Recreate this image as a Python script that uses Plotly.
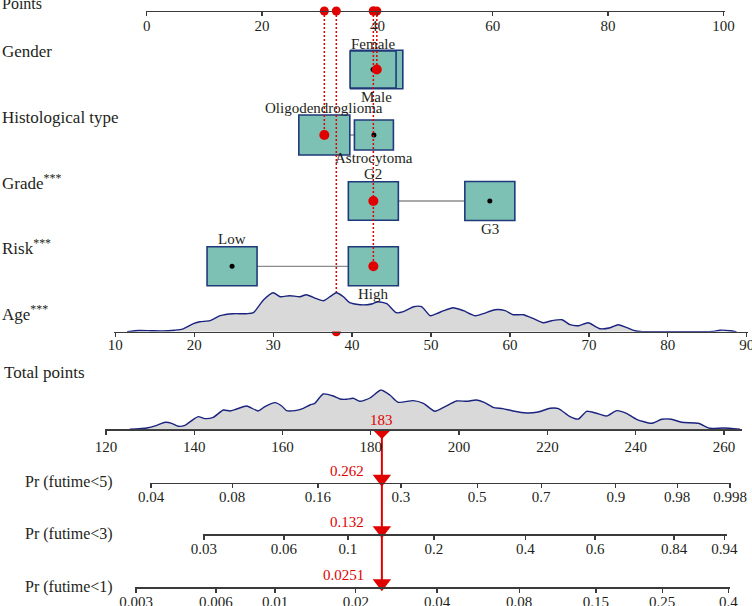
import plotly.graph_objects as go

# ---------------- data ----------------
points_ticks = [0, 20, 40, 60, 80, 100]
age_ticks = [10, 20, 30, 40, 50, 60, 70, 80, 90]
total_ticks = [120, 140, 160, 180, 200, 220, 240, 260]

gender_levels = ["Female", "Male"]
gender_points = [39.25, 39.9]
hist_levels = ["Oligodendroglioma", "Astrocytoma"]
hist_points = [30.8, 39.4]
grade_levels = ["G2", "G3"]
grade_points = [39.3, 59.5]
risk_levels = ["Low", "High"]
risk_points = [14.8, 39.3]

age_x = [11.5, 13.0, 14.5, 16.0, 17.5, 18.5, 19.9, 20.7, 22.0, 23.3, 24.9, 26.6, 27.5, 28.8, 30.0, 30.9,
         32.1, 33.4, 34.2, 35.5, 36.4, 37.2, 38.0, 38.9, 39.7, 41.0, 41.9, 42.6, 43.3, 44.4, 45.6, 46.5,
         47.8, 48.8, 49.9, 50.7, 51.6, 52.8, 54.1, 55.6, 56.6, 58.1, 59.4, 60.4, 61.7, 63.0, 64.2, 65.3,
         66.6, 67.6, 68.7, 69.9, 71.4, 72.7, 73.7, 74.8, 75.8, 76.8, 80.0, 84.0, 85.7, 86.6, 87.9, 88.7]
age_density = [0, 1.2, 1.0, 0.8, 1.5, 2.5, 8, 10, 11, 16, 18, 18, 19, 32, 39, 35,
               36, 35, 37, 33, 31, 35, 39, 35, 29, 27, 27, 28, 30, 28, 19, 20,
               25, 25, 16, 18, 21, 24, 21, 16, 18, 22, 21, 17, 17, 13, 9, 11,
               12, 7, 6, 9, 3, 4, 7, 4, 1, 0, 0, 0, 0.3, 1.5, 1, 0]

total_x = [125.4, 127.5, 129.2, 131.5, 133.4, 134.9, 136.4, 137.9, 139.8, 140.9, 142.4, 144.3, 146.6,
           148.1, 149.6, 151.9, 154.5, 156.0, 158.3, 159.8, 160.9, 162.8, 164.7, 166.2, 167.3, 169.2,
           171.5, 173.0, 174.5, 176.0, 177.5, 179.8, 182.3, 184.3, 186.2, 189.6, 191.9, 194.5, 196.8,
           199.4, 201.7, 203.9, 205.8, 207.7, 209.9, 212.2, 215.3, 217.9, 220.6, 222.5, 225.1, 227.0,
           228.9, 231.1, 233.4, 235.7, 237.9, 240.2, 243.6, 245.9, 248.1, 250.4, 254.2, 256.8, 259.9, 263.6]
total_density = [0, 0.5, 1.3, 4, 7, 6, 3, 4, 10, 12.7, 10.7, 12, 19.3,
                 18.3, 20.3, 23.3, 18.3, 22.7, 26.7, 23.3, 18.7, 18.7, 21, 24.3, 26, 35.3,
                 33.3, 30.3, 30, 31, 28, 31.3, 39.3, 34.3, 27, 28.7, 26, 18, 22.7,
                 28.3, 28, 29.3, 26.7, 22, 20.7, 18.3, 16.3, 17.3, 21, 20.7, 12.7, 10.3,
                 18, 16, 13.3, 18.7, 16, 10, 6, 10, 10, 7, 6, 1, 1.3, 0]

pr5_labels = ["0.04", "0.08", "0.16", "0.3", "0.5", "0.7", "0.9", "0.98", "0.998"]
pr5_pos = [130.2, 148.6, 168.0, 186.8, 204.1, 218.6, 235.5, 249.4, 261.4]
pr3_labels = ["0.03", "0.06", "0.1", "0.2", "0.4", "0.6", "0.84", "0.94"]
pr3_pos = [142.2, 160.3, 174.8, 194.3, 215.0, 230.8, 248.7, 260.1]
pr1_labels = ["0.003", "0.006", "0.01", "0.02", "0.04", "0.08", "0.15", "0.25", "0.4"]
pr1_pos = [126.8, 144.9, 158.3, 176.6, 195.0, 213.6, 231.0, 246.0, 261.0]

# selected patient
sel_gender = "Male"
sel_hist = "Oligodendroglioma"
sel_grade = "G2"
sel_risk = "High"
sel_age = 38
total_score = 182.5
total_label = "183"
pr_values = ["0.262", "0.132", "0.0251"]

# ---------------- layout / style ----------------
W, H = 752, 606
SERIF = "Liberation Serif"
TXT = "#231f20"
AX = "#3a3a3a"
RED = "#e00000"
TEAL = "#7cc1b3"
NAVY = "#1f3a7a"
DENS_LINE = "#1a237e"
DENS_FILL = "#d9d9d9"
CLEAR = "rgba(0,0,0,0)"

PTS_PX0, PTS_K = 146.7, 5.767      # pixel of 0 points, px per point
AGE_PX0, AGE_K = 115.3, 7.893      # pixel of age 10, px per year
TOT_PX0, TOT_K = 106.0, 4.414      # pixel of 120 total points, px per point

Y_POINTS, Y_GENDER, Y_HIST, Y_GRADE, Y_RISK = 11, 69.5, 135, 201, 266.3
Y_AGE, Y_TOTAL, Y_PR5, Y_PR3, Y_PR1 = 331.7, 429.3, 482.7, 534.3, 587.3


def pts_px(v):
    return PTS_PX0 + v * PTS_K


def age_px(v):
    return AGE_PX0 + (v - 10) * AGE_K


def tot_px(v):
    return TOT_PX0 + (v - 120) * TOT_K


def make_axis(lo, hi, to_px, ypix, tickvals, ticktext=None, standoff=-3):
    eps = (hi - lo) * 0.002
    lo2, hi2 = lo - eps, hi + eps
    return dict(
        showline=True, linecolor=AX, linewidth=1.3,
        ticks="outside", ticklen=4, tickwidth=1.3, tickcolor=AX,
        showgrid=False, zeroline=False, anchor="free", automargin=False, fixedrange=True,
        tickfont=dict(family=SERIF, size=15, color=TXT),
        ticklabeloverflow="allow", ticklabelstandoff=standoff,
        domain=[to_px(lo2) / W, to_px(hi2) / W], range=[lo2, hi2],
        position=1 - ypix / H, tickmode="array", tickvals=tickvals,
        ticktext=ticktext if ticktext is not None else [str(t) for t in tickvals],
    )


fig = go.Figure()
shapes = []
annotations = []

# category rows: (levels, points, row y, box sizes px (w,h), selected, draw order)
rows = [
    (gender_levels, gender_points, Y_GENDER, [(46, 37), (52, 38.5)], sel_gender, [1, 0]),
    (hist_levels, hist_points, Y_HIST, [(51, 40), (39, 30)], sel_hist, [0, 1]),
    (grade_levels, grade_points, Y_GRADE, [(50, 38.5), (50, 39)], sel_grade, [0, 1]),
    (risk_levels, risk_points, Y_RISK, [(50, 39), (50, 39)], sel_risk, [0, 1]),
]

for levels, pts, ry, sizes, sel, order in rows:
    shapes.append(dict(type="line", xref="x", yref="y", x0=min(pts), x1=max(pts), y0=ry, y1=ry,
                       line=dict(color="#8c8c8c", width=1.3), layer="below"))
    for i in order:
        w, h = sizes[i]
        shapes.append(dict(type="rect", xref="x", yref="y",
                           x0=pts[i] - w / 2 / PTS_K, x1=pts[i] + w / 2 / PTS_K,
                           y0=ry - h / 2, y1=ry + h / 2,
                           fillcolor=TEAL, line=dict(color=NAVY, width=1.6), layer="below"))
    for i, lab in enumerate(levels):
        w, h = sizes[i]
        yy = ry - h / 2 - 7.5 if i == 0 else ry + h / 2 + 8
        annotations.append(dict(xref="x", yref="y", x=pts[i], y=yy, text=lab, showarrow=False,
                                font=dict(family=SERIF, size=15, color=TXT),
                                xanchor="center", yanchor="middle"))
    fig.add_trace(go.Scatter(x=pts, y=[ry] * len(pts), mode="markers", xaxis="x", yaxis="y",
                             marker=dict(color="black", size=5), hoverinfo="skip", showlegend=False))

# densities
fig.add_trace(go.Scatter(x=age_x, y=age_density, xaxis="x2", yaxis="y2", mode="lines",
                         line=dict(color=DENS_LINE, width=1.4, shape="spline", smoothing=0.6),
                         fill="tozeroy", fillcolor=DENS_FILL, hoverinfo="skip", showlegend=False))
fig.add_trace(go.Scatter(x=total_x, y=total_density, xaxis="x3", yaxis="y3", mode="lines",
                         line=dict(color=DENS_LINE, width=1.4, shape="spline", smoothing=0.6),
                         fill="tozeroy", fillcolor=DENS_FILL, hoverinfo="skip", showlegend=False))

# dotted projection lines and selected dots
DOT = dict(color=RED, width=1.5, dash="2px,2px")
sel_items = [
    (hist_points[hist_levels.index(sel_hist)], Y_HIST),
    (risk_points[risk_levels.index(sel_risk)], Y_RISK),
    (gender_points[gender_levels.index(sel_gender)], Y_GENDER),
]
for xv, ry in sel_items:
    fig.add_trace(go.Scatter(x=[xv, xv], y=[Y_POINTS, ry], mode="lines", xaxis="x", yaxis="y",
                             line=DOT, hoverinfo="skip", showlegend=False))
fig.add_trace(go.Scatter(x=[sel_age, sel_age], y=[Y_POINTS, Y_AGE], mode="lines", xaxis="x2", yaxis="y",
                         line=DOT, hoverinfo="skip", showlegend=False))

sel_pts = [
    gender_points[gender_levels.index(sel_gender)],
    hist_points[hist_levels.index(sel_hist)],
    grade_points[grade_levels.index(sel_grade)],
    risk_points[risk_levels.index(sel_risk)],
]
sel_rows = [Y_GENDER, Y_HIST, Y_GRADE, Y_RISK]
fig.add_trace(go.Scatter(x=sel_pts, y=sel_rows, mode="markers", xaxis="x", yaxis="y",
                         marker=dict(color=RED, size=10), hoverinfo="skip", showlegend=False))
fig.add_trace(go.Scatter(x=sel_pts, y=[Y_POINTS] * 4, mode="markers", xaxis="x", yaxis="y",
                         marker=dict(color=RED, size=9), hoverinfo="skip", showlegend=False))
fig.add_trace(go.Scatter(x=[sel_age, sel_age], y=[Y_POINTS, Y_AGE], mode="markers", xaxis="x2", yaxis="y",
                         marker=dict(color=RED, size=9), hoverinfo="skip", showlegend=False))

# total points arrow
fig.add_trace(go.Scatter(x=[total_score, total_score], y=[Y_TOTAL, Y_PR1 - 4], mode="lines",
                         xaxis="x3", yaxis="y", line=dict(color=RED, width=2),
                         hoverinfo="skip", showlegend=False))
fig.add_trace(go.Scatter(x=[total_score], y=[Y_TOTAL], mode="markers", xaxis="x3", yaxis="y",
                         marker=dict(color=RED, size=15, symbol="diamond"),
                         hoverinfo="skip", showlegend=False))
annotations.append(dict(xref="x3", yref="y", x=total_score, y=Y_TOTAL - 9, text=total_label,
                        showarrow=False, font=dict(family=SERIF, size=15, color=RED),
                        xanchor="center", yanchor="middle"))
for ax, ry, val in zip(["x4", "x5", "x6"], [Y_PR5, Y_PR3, Y_PR1], pr_values):
    fig.add_trace(go.Scatter(x=[total_score], y=[ry - 4], mode="markers", xaxis=ax, yaxis="y",
                             marker=dict(color=RED, size=16, symbol="triangle-down"),
                             hoverinfo="skip", showlegend=False))
    annotations.append(dict(xref=ax, yref="y", x=total_score, y=ry - 12, text=val, xshift=-16,
                            showarrow=False, font=dict(family=SERIF, size=15, color=RED),
                            xanchor="right", yanchor="middle"))

# row labels
row_labels = [
    ("Points", 3, 0, 16),
    ("Gender", 51.7, 0, 17),
    ("Histological type", 117.3, 0, 17),
    ("Grade<sup>***</sup>", 182.3, 0, 17),
    ("Risk<sup>***</sup>", 247.3, 0, 17),
    ("Age<sup>***</sup>", 313.3, 0, 17),
    ("Total points", 372, 2, 17),
    ("Pr (futime&lt;5)", 481.7, 23, 16),
    ("Pr (futime&lt;3)", 534, 23, 16),
    ("Pr (futime&lt;1)", 586.7, 23, 16),
]
for text, yy, xpx, fs in row_labels:
    annotations.append(dict(xref="paper", yref="y", x=xpx / W, y=yy, text=text, showarrow=False,
                            font=dict(family=SERIF, size=fs, color=TXT),
                            xanchor="left", yanchor="middle"))

fig.update_layout(
    width=W, height=H, margin=dict(l=0, r=0, t=0, b=0, autoexpand=False),
    template="none", paper_bgcolor="white", plot_bgcolor=CLEAR, showlegend=False,
    xaxis=make_axis(0, 100, pts_px, Y_POINTS, points_ticks),
    xaxis2=make_axis(10, 90, age_px, Y_AGE, age_ticks, standoff=-5),
    xaxis3=make_axis(120, 263.8, tot_px, Y_TOTAL, total_ticks, standoff=-1),
    xaxis4=make_axis(pr5_pos[0], pr5_pos[-1], tot_px, Y_PR5, pr5_pos, pr5_labels, standoff=-4),
    xaxis5=make_axis(pr3_pos[0], 260.5, tot_px, Y_PR3, pr3_pos, pr3_labels, standoff=-4),
    xaxis6=make_axis(pr1_pos[0], pr1_pos[-1], tot_px, Y_PR1, pr1_pos, pr1_labels, standoff=-4),
    yaxis=dict(range=[H, 0], domain=[0, 1], visible=False, fixedrange=True, anchor="x"),
    yaxis2=dict(range=[0, 40], domain=[1 - Y_AGE / H, 1 - (Y_AGE - 40) / H], visible=False,
                fixedrange=True, anchor="x2"),
    yaxis3=dict(range=[0, 40], domain=[1 - Y_TOTAL / H, 1 - (Y_TOTAL - 40) / H], visible=False,
                fixedrange=True, anchor="x3"),
    shapes=shapes, annotations=annotations,
)

fig.write_html("out.html", config={"displayModeBar": False, "staticPlot": True},
               post_script="document.body.style.margin='0';")
